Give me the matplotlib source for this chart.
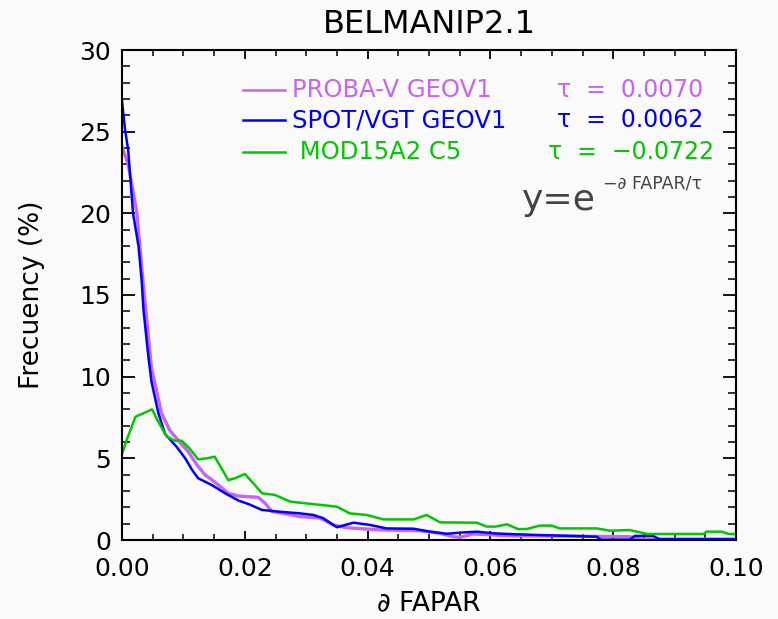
import matplotlib
matplotlib.use("Agg")
import matplotlib.pyplot as plt
from matplotlib.ticker import MultipleLocator, FormatStrFormatter

# data (delta FAPAR, frequency %)
proba_x = [0, 0.001, 0.0024, 0.0034, 0.0048, 0.0056, 0.0064, 0.0078, 0.0094, 0.0108,
           0.0122, 0.0135, 0.0151, 0.0173, 0.019, 0.0222, 0.0233, 0.0244, 0.026, 0.029,
           0.0322, 0.0344, 0.0366, 0.042, 0.0485, 0.0518, 0.054, 0.055, 0.0572, 0.0605,
           0.0637, 0.0702, 0.0827, 0.0845, 0.1]
proba_y = [24.1, 23.0, 20.1, 15.9, 10.5, 9.2, 7.8, 6.7, 6.0, 5.4,
           4.6, 4.0, 3.55, 2.86, 2.69, 2.61, 2.25, 1.75, 1.65, 1.43,
           1.35, 0.92, 0.75, 0.62, 0.57, 0.41, 0.2, 0.16, 0.37, 0.31,
           0.25, 0.25, 0.2, 0.05, 0.05]

spot_x = [0, 0.0005, 0.001, 0.0018, 0.0027, 0.0032, 0.0035, 0.0043, 0.0048, 0.0059,
          0.007, 0.0089, 0.0103, 0.0114, 0.0124, 0.0146, 0.0168, 0.019, 0.0206, 0.0228,
          0.0257, 0.029, 0.0312, 0.0328, 0.035, 0.0377, 0.0404, 0.0431, 0.0475, 0.0502,
          0.0529, 0.055, 0.0578, 0.0605, 0.0627, 0.0675, 0.073, 0.0773, 0.078, 0.0827,
          0.0835, 0.0865, 0.0875, 0.1]
spot_y = [26.9, 25.1, 23.9, 20.0, 17.96, 15.9, 14.1, 11.2, 9.7, 7.8,
          6.5, 5.7, 5.0, 4.3, 3.78, 3.37, 2.86, 2.41, 2.2, 1.84,
          1.73, 1.63, 1.53, 1.33, 0.78, 1.06, 0.92, 0.71, 0.69, 0.51,
          0.38, 0.45, 0.51, 0.41, 0.37, 0.31, 0.25, 0.2, 0.02, 0.02,
          0.25, 0.25, 0.05, 0.05]

mod_x = [0, 0.00076, 0.0022, 0.0035, 0.0049, 0.0059, 0.0073, 0.0086, 0.0097, 0.011,
         0.0124, 0.0138, 0.0151, 0.0162, 0.0173, 0.0184, 0.02, 0.0214, 0.0228, 0.0249,
         0.0274, 0.0298, 0.035, 0.0371, 0.0399, 0.0426, 0.0475, 0.0496, 0.0518, 0.0578,
         0.0594, 0.0608, 0.0627, 0.0645, 0.0659, 0.068, 0.070, 0.0713, 0.0773, 0.0795,
         0.0827, 0.0855, 0.0947, 0.0952, 0.0977, 0.0988, 0.1]
mod_y = [5.26, 6.12, 7.55, 7.76, 8.0, 7.24, 6.33, 6.08, 6.08, 5.61,
         4.94, 5.0, 5.1, 4.39, 3.67, 3.78, 4.04, 3.47, 2.86, 2.76,
         2.35, 2.25, 2.04, 1.63, 1.53, 1.26, 1.26, 1.53, 1.08, 1.06,
         0.82, 0.82, 0.96, 0.67, 0.67, 0.88, 0.88, 0.71, 0.71, 0.57,
         0.61, 0.37, 0.37, 0.51, 0.51, 0.37, 0.37]

names = ["PROBA-V GEOV1", "SPOT/VGT GEOV1", " MOD15A2 C5"]
taus = ["\u03c4  =  0.0070", "\u03c4  =  0.0062", "\u03c4  =  \u22120.0722"]
colores = ["#c864f0", "#0000ff", "#00c800"]

bg = "#fafafa"
fig = plt.figure(figsize=(7.78, 6.19), dpi=100, facecolor=bg)
ax = fig.add_axes([122/778, 79/619, 614/778, 490/619])
ax.set_facecolor(bg)

ax.plot(proba_x, proba_y, color=colores[0], lw=2.4)
ax.plot(spot_x, spot_y, color=colores[1], lw=1.8)
ax.plot(mod_x, mod_y, color=colores[2], lw=1.8)

ax.set_xlim(0, 0.1)
ax.set_ylim(0, 30)
ax.xaxis.set_major_locator(MultipleLocator(0.02))
ax.xaxis.set_minor_locator(MultipleLocator(0.005))
ax.xaxis.set_major_formatter(FormatStrFormatter("%.2f"))
ax.yaxis.set_major_locator(MultipleLocator(5))
ax.yaxis.set_minor_locator(MultipleLocator(1))

for s in ax.spines.values():
    s.set_linewidth(1.5)
ax.tick_params(axis="x", which="major", direction="in", length=6.5, width=1.3,
               top=True, labelsize=18, pad=12)
ax.tick_params(axis="x", which="minor", direction="in", length=4.3, width=1.1, top=True)
ax.tick_params(axis="y", which="major", direction="in", length=9.4, width=1.3,
               right=True, labelsize=18, pad=8)
ax.tick_params(axis="y", which="minor", direction="in", length=5.8, width=1.1, right=True)

ax.set_title("BELMANIP2.1", fontsize=23, pad=12)
ax.set_xlabel("\u2202 FAPAR", fontsize=19)
ax.set_ylabel("Frecuency (%)", fontsize=19)
ax.xaxis.set_label_coords(0.5, -0.102)
ax.yaxis.set_label_coords(-0.125, 0.5)

# legend drawn by hand
filas = [0.918, 0.857, 0.792]
tau_x = [0.708, 0.708, 0.694]
for i in range(3):
    ax.plot([0.197, 0.2655], [filas[i], filas[i]], color=colores[i], lw=1.8,
            transform=ax.transAxes, clip_on=False)
    ax.text(0.277, filas[i], names[i], color=colores[i], fontsize=17.5,
            va="center", ha="left", transform=ax.transAxes)
    ax.text(tau_x[i], filas[i], taus[i], color=colores[i], fontsize=17,
            va="center", ha="left", transform=ax.transAxes)

ax.text(0.651, 0.694, "y=e", fontsize=26, color="#444444", va="center", ha="left",
        transform=ax.transAxes)
ax.text(0.784, 0.728, "\u2212\u2202 FAPAR/\u03c4", fontsize=12.5, color="#444444",
        va="center", ha="left", transform=ax.transAxes)

fig.savefig("out.png", dpi=100, facecolor=bg)
